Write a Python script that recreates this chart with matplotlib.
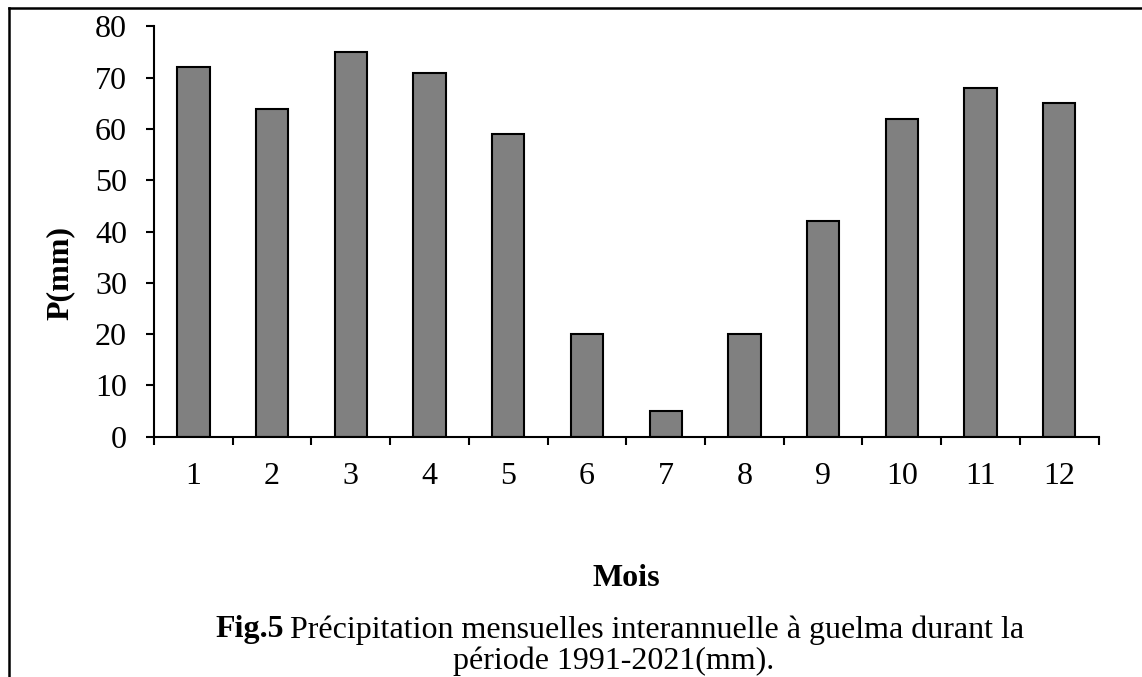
import matplotlib.pyplot as plt
import numpy as np
from matplotlib.lines import Line2D

plt.rcParams['font.family'] = ['Liberation Serif', 'DejaVu Serif']

# monthly precipitation (mm), Guelma 1991-2021
months = ['1', '2', '3', '4', '5', '6', '7', '8', '9', '10', '11', '12']
precip = [72, 64, 75, 71, 59, 20, 5, 20, 42, 62, 68, 65]
y_ticks = [0, 10, 20, 30, 40, 50, 60, 70, 80]

FS = 23

fig = plt.figure(figsize=(11.42, 6.77), dpi=100)
ax = fig.add_axes([0.1349, 0.3549, 0.962 - 0.1349, 0.9609 - 0.3549])

x = np.arange(len(months))
ax.bar(x, precip, width=0.41, color='#808080', edgecolor='black', linewidth=1.5)

ax.set_xlim(-0.5, len(months) - 0.5)
ax.set_ylim(0, 80)
ax.set_yticks(y_ticks)
ax.set_xticks(x)
ax.set_xticklabels(months)
ax.set_xticks(np.arange(-0.5, len(months)), minor=True)

for s in ['top', 'right']:
    ax.spines[s].set_visible(False)
for s in ['left', 'bottom']:
    ax.spines[s].set_linewidth(1.5)

ax.tick_params(axis='y', length=6, width=1.5, pad=13.5, labelsize=FS)
ax.tick_params(axis='x', which='major', length=0, pad=18, labelsize=FS)
ax.tick_params(axis='x', which='minor', length=6, width=1.5)

fig.text(60 / 1142, 1 - 273 / 677, 'P(mm)', rotation=90, fontsize=FS,
         fontweight='bold', ha='center', va='center')
fig.text(626 / 1142, 1 - 578 / 677, 'Mois', fontsize=FS, fontweight='bold',
         ha='center', va='center')

# caption, bold prefix + normal text
cap_y = 1 - 630 / 677
t1 = fig.text(215 / 1142, cap_y, 'Fig.5', fontsize=FS, fontweight='bold',
              ha='left', va='center')
fig.canvas.draw()
bb = t1.get_window_extent()
fig.text((bb.x1 + 6) / 1142, cap_y,
         'Précipitation mensuelles interannuelle à guelma durant la',
         fontsize=FS, ha='left', va='center')
fig.text(614 / 1142, 1 - 661 / 677, 'période 1991-2021(mm).', fontsize=FS,
         ha='center', va='center')

# frame around the figure (top and left visible)
fig.add_artist(Line2D([9 / 1142, 1], [1 - 8 / 677, 1 - 8 / 677],
                      color='black', linewidth=1.8, transform=fig.transFigure))
fig.add_artist(Line2D([9 / 1142, 9 / 1142], [0, 1 - 8 / 677],
                      color='black', linewidth=1.8, transform=fig.transFigure))

fig.savefig('out.png', dpi=100)
